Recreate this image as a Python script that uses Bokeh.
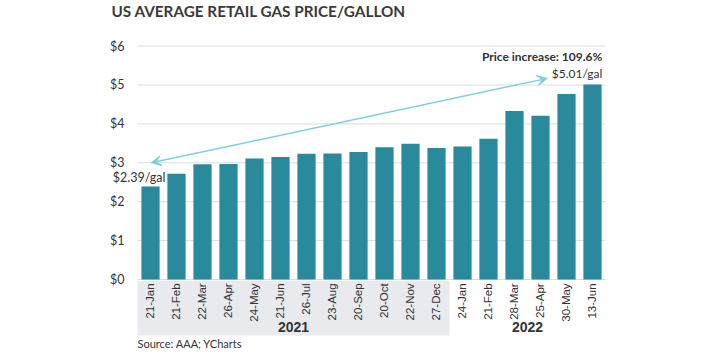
from bokeh.plotting import figure
from bokeh.models import (Range1d, FixedTicker, PrintfTickFormatter,
                          ColumnDataSource, Label, Arrow, VeeHead)
from bokeh.core.properties import value
from bokeh.embed import file_html
from bokeh.resources import INLINE
import math

# ---- data ----
years = ["2021", "2022"]
months_2021 = ["21-Jan", "21-Feb", "22-Mar", "26-Apr", "24-May", "21-Jun",
               "26-Jul", "23-Aug", "20-Sep", "20-Oct", "22-Nov", "27-Dec"]
months_2022 = ["24-Jan", "21-Feb", "28-Mar", "25-Apr", "30-May", "13-Jun"]
prices_2021 = [2.39, 2.72, 2.96, 2.97, 3.11, 3.15, 3.23, 3.24, 3.28, 3.40, 3.49, 3.38]
prices_2022 = [3.42, 3.62, 4.33, 4.21, 4.77, 5.01]
y_ticks = [0, 1, 2, 3, 4, 5, 6]
title_text = "US AVERAGE RETAIL GAS PRICE/GALLON"
source_text = "Source: AAA; YCharts"
start_label = "$2.39/gal"
end_label = "$5.01/gal"
increase_label = "Price increase: 109.6%"

BAR = "#298a9b"
TXT = "#333333"
ARROW = "#7fcfdb"
BAND = "#e8eaee"

months = months_2021 + months_2022
prices = prices_2021 + prices_2022
n = len(months)
n21 = len(months_2021)
xpos = [i + 0.5 for i in range(n)]
src = ColumnDataSource(dict(x=xpos, top=prices, label=months))

p = figure(width=720, height=360, output_backend="svg", toolbar_location=None,
           x_range=Range1d(-1.423, 18.577),
           y_range=Range1d(-2.082, 7.172),
           min_border_left=100, min_border_right=100, min_border_top=0, min_border_bottom=0)
p.outline_line_color = None
p.background_fill_color = "white"
p.border_fill_color = "white"

# grid lines limited to the category span
p.segment(x0=0, x1=n, y0=y_ticks, y1=y_ticks, line_color="#dcdcdc", line_width=1)

# gray band under 2021 labels
p.quad(left=0, right=n21, bottom=-1.44, top=-0.03, fill_color=BAND, line_color=None)

p.vbar(x="x", top="top", width=0.7, source=src, fill_color=BAR, line_color=None)

# month labels
p.text(x="x", y=-0.1, text="label", source=src, angle=math.pi / 2,
       text_align="right", text_baseline="middle", text_color=TXT,
       text_font=value("Liberation Sans"), text_font_size="11.5px")
# year labels
p.text(x=[n21 / 2, n21 + (n - n21) / 2], y=[-1.23, -1.23], text=years,
       text_align="center", text_baseline="middle",
       text_color=TXT, text_font=value("Liberation Sans"), text_font_style="bold",
       text_font_size="14px")

p.xaxis.visible = False
p.xgrid.visible = False
p.ygrid.visible = False

yax = p.yaxis[0]
yax.fixed_location = 0
yax.ticker = FixedTicker(ticks=y_ticks)
yax.formatter = PrintfTickFormatter(format="$%d")
yax.axis_line_color = None
yax.major_tick_line_color = None
yax.minor_tick_line_color = None
yax.major_label_text_font = "Lato"
yax.major_label_text_font_size = "12.5px"
yax.major_label_text_color = TXT
yax.major_label_standoff = 7

# arrow
p.add_layout(Arrow(x_start=0.53, y_start=3.0, x_end=15.76, y_end=5.17,
                   line_color=ARROW, line_width=1.5,
                   start=VeeHead(size=10, fill_color=ARROW, line_color=ARROW),
                   end=VeeHead(size=10, fill_color=ARROW, line_color=ARROW)))

p.add_layout(Label(x=0.06, y=2.62, text=start_label, text_align="center", text_baseline="middle",
                   text_font="Lato", text_font_size="12.5px", text_color=TXT))
p.add_layout(Label(x=17.88, y=5.30, text=end_label, text_align="right", text_baseline="middle",
                   text_font="Lato", text_font_size="12px", text_color=TXT))
p.add_layout(Label(x=17.88, y=5.73, text=increase_label, text_align="right", text_baseline="middle",
                   text_font="Lato", text_font_style="bold", text_font_size="12px", text_color=TXT))

# title and source, drawn inside the frame
p.add_layout(Label(x=-1.0, y=6.91, text=title_text, text_align="left", text_baseline="alphabetic",
                   text_font="Lato", text_font_style="bold", text_font_size="15.3px",
                   text_color="#3a3a3a"))
p.add_layout(Label(x=0.0, y=-1.64, text=source_text, text_align="left", text_baseline="alphabetic",
                   text_font="Lato", text_font_size="11px", text_color=TXT))

open("out.html", "w").write(file_html(p, INLINE))
